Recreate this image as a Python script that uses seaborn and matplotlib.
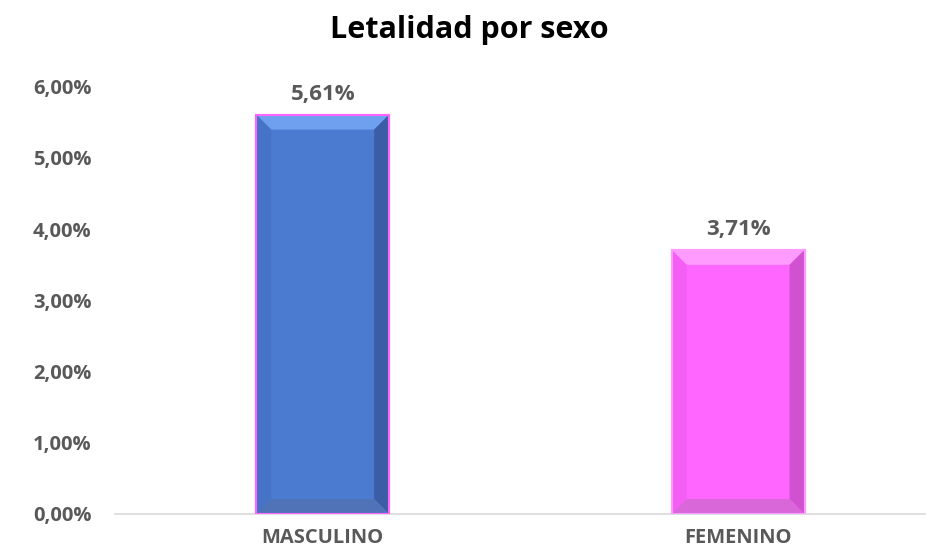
import matplotlib.pyplot as plt
import seaborn as sns
import numpy as np
from matplotlib.patches import Polygon

sexo = ['MASCULINO', 'FEMENINO']
letalidad = [5.61, 3.71]
etiquetas = ['5,61%', '3,71%']
y_ticks = [0, 1, 2, 3, 4, 5, 6]
y_tick_labels = ['0,00%', '1,00%', '2,00%', '3,00%', '4,00%', '5,00%', '6,00%']

# colores: cara, arriba, derecha, abajo, izquierda, borde
colores = [
    dict(cara='#4A7BD1', arriba='#6FA0F0', derecha='#3A5DA6', abajo='#4F73B6', izq='#4673C6', borde='#FF66FF'),
    dict(cara='#FF66FF', arriba='#FF9BFF', derecha='#D152D1', abajo='#D967D9', izq='#F45EF4', borde='#FF9BFF'),
]

sns.set_style('white')
plt.rcParams['font.family'] = ['Open Sans', 'DejaVu Sans']
gris = '#595959'

fig = plt.figure(figsize=(9.38, 5.55), dpi=100)
ax = fig.add_axes([115 / 938, 1 - 514 / 555, (925 - 115) / 938, (514 - 60) / 555])

sns.barplot(x=sexo, y=letalidad, ax=ax, width=0.32,
            palette=[c['cara'] for c in colores], hue=sexo, legend=False,
            saturation=1)

ax.set_ylim(0, (514 - 60) / 71.2)
ax.set_xlim(-0.5, 1.45)

bx = 15 / 416
by = 15 / 71.2
for bar, c, lab in zip(ax.patches, colores, etiquetas):
    x0 = bar.get_x()
    w = bar.get_width()
    h = bar.get_height()
    x1 = x0 + w
    bar.set_edgecolor(c['borde'])
    bar.set_linewidth(1.5)
    bar.set_zorder(2)
    caras = [
        ([(x0, h), (x1, h), (x1 - bx, h - by), (x0 + bx, h - by)], c['arriba']),
        ([(x1, h), (x1, 0), (x1 - bx, by), (x1 - bx, h - by)], c['derecha']),
        ([(x0, 0), (x1, 0), (x1 - bx, by), (x0 + bx, by)], c['abajo']),
        ([(x0, 0), (x0, h), (x0 + bx, h - by), (x0 + bx, by)], c['izq']),
    ]
    for pts, col in caras:
        ax.add_patch(Polygon(pts, closed=True, facecolor=col, edgecolor='none', zorder=3))
    ax.add_patch(plt.Rectangle((x0, 0), w, h, fill=False, edgecolor=c['borde'], linewidth=1.5, zorder=4))
    ax.text(x0 + w / 2, h + 0.14, lab, ha='center', va='bottom', fontsize=16,
            fontweight='bold', color=gris)

ax.set_yticks(y_ticks)
ax.set_yticklabels(y_tick_labels)
ax.tick_params(axis='both', length=0, labelcolor=gris)
ax.tick_params(axis='y', pad=17, labelsize=14.5)
ax.tick_params(axis='x', pad=10, labelsize=14.5)
for t in ax.get_xticklabels() + ax.get_yticklabels():
    t.set_fontweight('bold')

for s in ['top', 'right', 'left']:
    ax.spines[s].set_visible(False)
ax.spines['bottom'].set_color('#D9D9D9')
ax.spines['bottom'].set_linewidth(1.2)

fig.text(0.5, 1 - 30 / 555, 'Letalidad por sexo', ha='center', va='center',
         fontsize=22, fontweight='bold', color='black')

fig.savefig('out.png', dpi=100)
